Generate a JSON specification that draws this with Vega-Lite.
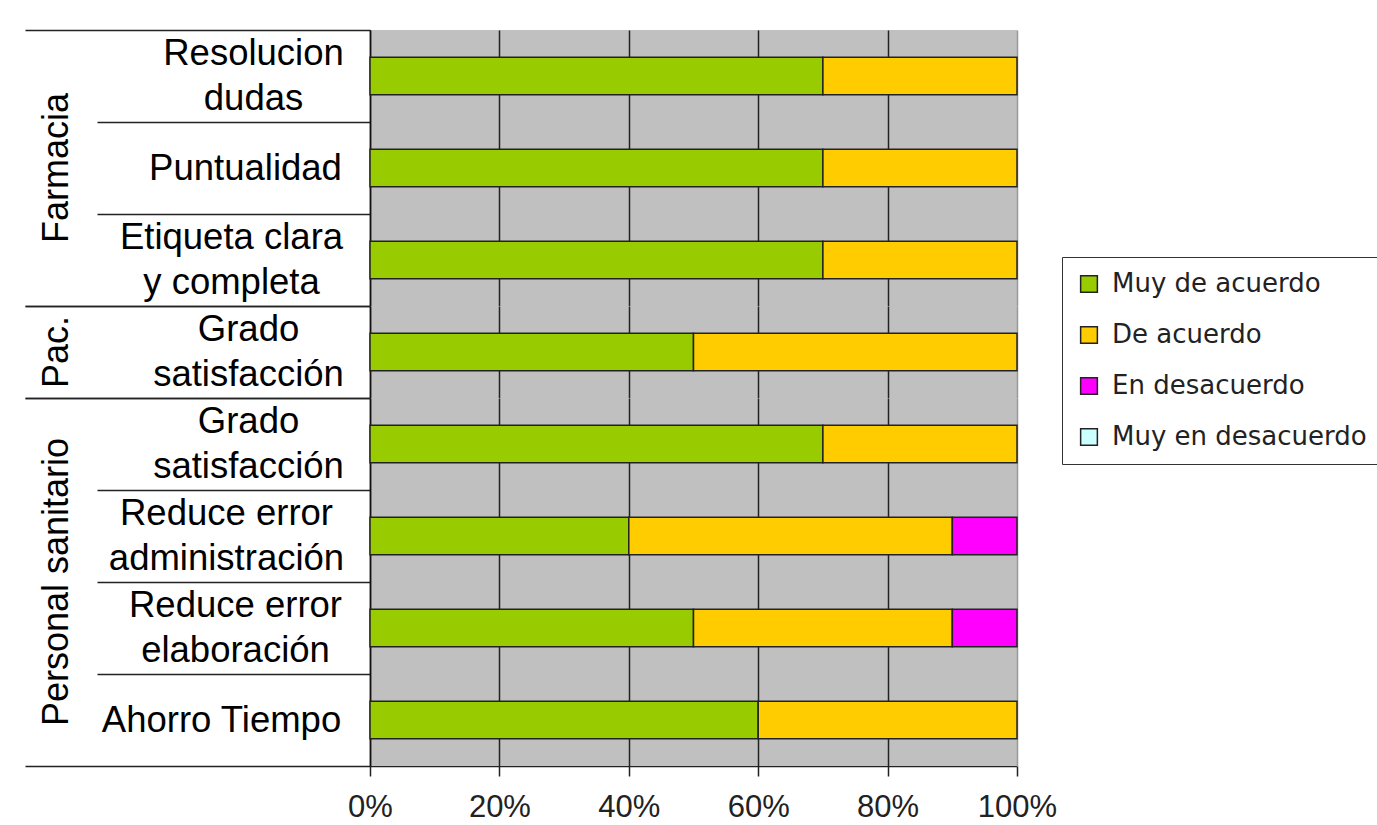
{
  "$schema": "https://vega.github.io/schema/vega-lite/v6.json",
  "background": "white",
  "padding": {"left": 24, "top": 12, "right": 0, "bottom": 0},
  "autosize": {"type": "pad"},
  "data": {"values": [
    {"grp": "Farmacia", "cat": "Farmacia~Resolucion|dudas", "resp": "Muy de acuerdo", "val": 70},
    {"grp": "Farmacia", "cat": "Farmacia~Resolucion|dudas", "resp": "De acuerdo", "val": 30},
    {"grp": "Farmacia", "cat": "Farmacia~Puntualidad", "resp": "Muy de acuerdo", "val": 70},
    {"grp": "Farmacia", "cat": "Farmacia~Puntualidad", "resp": "De acuerdo", "val": 30},
    {"grp": "Farmacia", "cat": "Farmacia~Etiqueta clara|y completa", "resp": "Muy de acuerdo", "val": 70},
    {"grp": "Farmacia", "cat": "Farmacia~Etiqueta clara|y completa", "resp": "De acuerdo", "val": 30},
    {"grp": "Pac.", "cat": "Pac.~Grado|satisfacción", "resp": "Muy de acuerdo", "val": 50},
    {"grp": "Pac.", "cat": "Pac.~Grado|satisfacción", "resp": "De acuerdo", "val": 50},
    {"grp": "Personal sanitario", "cat": "Personal sanitario~Grado|satisfacción", "resp": "Muy de acuerdo", "val": 70},
    {"grp": "Personal sanitario", "cat": "Personal sanitario~Grado|satisfacción", "resp": "De acuerdo", "val": 30},
    {"grp": "Personal sanitario", "cat": "Personal sanitario~Reduce error|administración", "resp": "Muy de acuerdo", "val": 40},
    {"grp": "Personal sanitario", "cat": "Personal sanitario~Reduce error|administración", "resp": "De acuerdo", "val": 50},
    {"grp": "Personal sanitario", "cat": "Personal sanitario~Reduce error|administración", "resp": "En desacuerdo", "val": 10},
    {"grp": "Personal sanitario", "cat": "Personal sanitario~Reduce error|elaboración", "resp": "Muy de acuerdo", "val": 50},
    {"grp": "Personal sanitario", "cat": "Personal sanitario~Reduce error|elaboración", "resp": "De acuerdo", "val": 40},
    {"grp": "Personal sanitario", "cat": "Personal sanitario~Reduce error|elaboración", "resp": "En desacuerdo", "val": 10},
    {"grp": "Personal sanitario", "cat": "Personal sanitario~Ahorro Tiempo", "resp": "Muy de acuerdo", "val": 60},
    {"grp": "Personal sanitario", "cat": "Personal sanitario~Ahorro Tiempo", "resp": "De acuerdo", "val": 40}
  ]},
  "transform": [
    {"calculate": "indexof(['Muy de acuerdo','De acuerdo','En desacuerdo','Muy en desacuerdo'], datum.resp)", "as": "ord"}
  ],
  "facet": {
    "row": {
      "field": "grp", "type": "nominal",
      "sort": ["Farmacia", "Pac.", "Personal sanitario"],
      "header": {
        "title": null,
        "labelOrient": "left",
        "labelAngle": -90,
        "labelFont": "Liberation Sans",
        "labelFontSize": 36,
        "labelColor": "black",
        "labelPadding": 277
      }
    }
  },
  "spacing": {"row": 0},
  "bounds": "flush",
  "spec": {
    "width": 647,
    "height": {"step": 92},
    "mark": {"type": "bar", "stroke": "#222", "strokeWidth": 1.5, "height": {"band": 0.41}},
    "encoding": {
      "y": {
        "field": "cat", "type": "nominal", "sort": null,
        "scale": {"paddingInner": 0, "paddingOuter": 0},
        "axis": {
          "title": null,
          "domain": true, "domainColor": "#111", "domainWidth": 1.5,
          "ticks": true, "tickBand": "extent", "tickColor": "#222", "tickWidth": 1.5,
          "tickSize": {"condition": {"test": "datum.extra || indexof(['Farmacia~Etiqueta clara|y completa','Pac.~Grado|satisfacción','Personal sanitario~Ahorro Tiempo'], datum.value) >= 0", "value": 345}, "value": 273},
          "labelExpr": "indexof('' + datum.label, '~') >= 0 ? split(split(datum.label, '~')[1], '|') : ''",
          "labelAlign": "center",
          "labelBaseline": "middle",
          "labelFont": "Liberation Sans",
          "labelFontSize": 36.5,
          "labelColor": "black",
          "labelLineHeight": 45,
          "labelLimit": 0,
          "labelOffset": {"expr": "indexof('' + datum.label, '|') >= 0 ? -22.5 : 0"},
          "labelPadding": {"expr": "[-156,-148,-206,-223,-151,-129,-138,-196][indexof(['Farmacia~Resolucion|dudas','Farmacia~Puntualidad','Farmacia~Etiqueta clara|y completa','Pac.~Grado|satisfacción','Personal sanitario~Grado|satisfacción','Personal sanitario~Reduce error|administración','Personal sanitario~Reduce error|elaboración','Personal sanitario~Ahorro Tiempo'], datum.value)]"}
        }
      },
      "x": {
        "field": "val", "type": "quantitative", "stack": "normalize",
        "scale": {"domain": [0, 1], "nice": false},
        "axis": {
          "title": null,
          "format": ".0%",
          "values": [0, 0.2, 0.4, 0.6, 0.8, 1],
          "grid": true,
          "gridColor": {"condition": {"test": "datum.value == 1", "value": "#999999"}, "value": "#222222"},
          "gridWidth": 1.5,
          "domainColor": "#222", "domainWidth": 1.5,
          "tickColor": "#222", "tickWidth": 1.5, "tickSize": 10,
          "labelFont": "Liberation Sans", "labelFontSize": 31, "labelColor": "#222",
          "labelPadding": 16, "labelFlush": false
        }
      },
      "color": {
        "field": "resp", "type": "nominal",
        "scale": {
          "domain": ["Muy de acuerdo", "De acuerdo", "En desacuerdo", "Muy en desacuerdo"],
          "range": ["#99CC00", "#FFCC00", "#FF00FF", "#CCFFFF"]
        },
        "legend": {
          "title": null,
          "orient": "none",
          "legendX": 692,
          "legendY": 227,
          "symbolType": "square",
          "symbolSize": 280,
          "symbolStrokeColor": "#222",
          "symbolStrokeWidth": 1.5,
          "symbolOpacity": 1,
          "labelFont": "DejaVu Sans",
          "labelFontSize": 26,
          "labelColor": "#222",
          "labelOffset": 10,
          "rowPadding": 25,
          "padding": 14,
          "strokeColor": "#333",
          "fillColor": "white",
          "labelLimit": 0
        }
      },
      "order": {"field": "ord"}
    }
  },
  "resolve": {"scale": {"y": "independent"}},
  "config": {"view": {"stroke": null, "fill": "#C0C0C0"}}
}
